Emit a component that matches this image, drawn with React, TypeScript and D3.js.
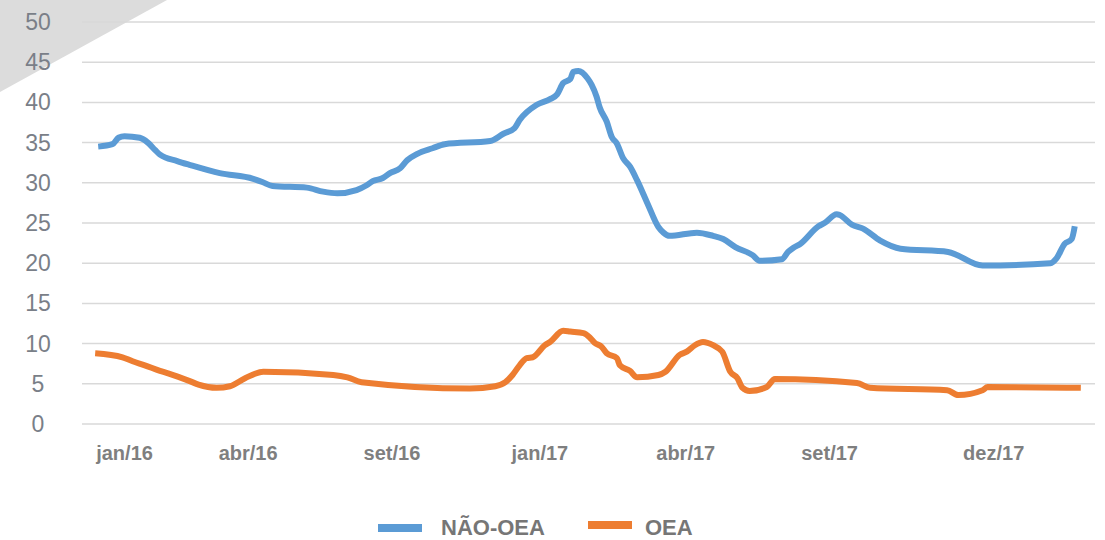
import React from 'react';
import * as d3 from 'd3';

// position along the category axis (0-100) and value
const naoOeaPos = [1.6, 3.0, 3.6, 4.2, 5.7, 6.5, 7.2, 7.7, 9.4, 10.7, 13.6, 16.9, 17.8, 18.8, 22.2, 23.8, 25.2, 27.1, 28.1, 28.7, 29.7, 30.4, 31.4, 32.1, 33.1, 34.6, 35.8, 40.3, 41.6, 42.7, 43.2, 44.9, 46.2, 46.9, 47.5, 48.2, 48.5, 49.0, 49.9, 50.3, 50.8, 51.1, 51.8, 52.3, 52.8, 53.4, 54.1, 54.8, 55.8, 56.9, 57.4, 58.0, 60.7, 62.3, 63.3, 64.5, 66.2, 66.9, 69.1, 69.7, 70.2, 70.9, 72.7, 73.3, 74.5, 74.8, 76.0, 77.1, 78.8, 80.8, 85.5, 88.9, 95.6, 96.2, 97.0, 97.7, 98.0];
const naoOeaVal = [34.5, 34.8, 35.6, 35.8, 35.6, 35.0, 34.1, 33.5, 32.7, 32.2, 31.2, 30.5, 30.1, 29.6, 29.4, 28.9, 28.7, 29.1, 29.7, 30.2, 30.6, 31.2, 31.8, 32.8, 33.6, 34.3, 34.8, 35.2, 36.1, 36.8, 37.8, 39.7, 40.4, 41.0, 42.4, 42.9, 43.8, 43.9, 43.0, 42.2, 40.7, 39.4, 37.6, 35.7, 34.9, 33.1, 32.0, 30.3, 27.5, 24.5, 23.8, 23.4, 23.8, 23.4, 23.0, 22.0, 21.0, 20.3, 20.5, 21.4, 21.9, 22.4, 24.6, 25.0, 26.1, 26.0, 24.8, 24.3, 22.8, 21.8, 21.4, 19.7, 20.0, 20.6, 22.4, 23.0, 24.6];

const oeaPos = [1.3, 4.0, 5.0, 6.2, 7.7, 8.5, 10.7, 11.5, 13.3, 14.6, 16.1, 17.9, 24.8, 26.2, 27.6, 38.3, 40.8, 41.8, 42.5, 43.2, 43.9, 44.5, 45.7, 46.2, 47.5, 48.2, 49.5, 50.1, 50.6, 51.3, 51.8, 52.8, 53.1, 54.1, 54.8, 56.9, 57.6, 59.0, 59.7, 60.5, 61.3, 62.3, 63.2, 64.0, 64.7, 65.2, 65.9, 67.6, 68.4, 76.5, 77.8, 85.4, 86.5, 88.9, 89.4, 98.6];
const oeaVal = [8.8, 8.3, 7.8, 7.3, 6.6, 6.3, 5.3, 4.9, 4.5, 4.7, 5.7, 6.5, 6.1, 5.8, 5.2, 4.4, 4.7, 5.2, 6.1, 7.3, 8.2, 8.3, 9.8, 10.2, 11.6, 11.5, 11.3, 10.8, 10.1, 9.6, 8.8, 8.2, 7.3, 6.6, 5.8, 6.1, 6.5, 8.6, 9.0, 9.8, 10.2, 9.8, 9.0, 6.5, 5.7, 4.5, 4.1, 4.6, 5.6, 5.1, 4.5, 4.2, 3.6, 4.2, 4.6, 4.5];

const xTickLabels = ['jan/16', 'abr/16', 'set/16', 'jan/17', 'abr/17', 'set/17', 'dez/17'];
const xTickPos = [4.2, 16.4, 30.6, 45.2, 59.6, 73.8, 90.0];
const yTicks = [0, 5, 10, 15, 20, 25, 30, 35, 40, 45, 50];

const seriesNames = ['NÃO-OEA', 'OEA'];
const seriesColors = ['#5b9bd5', '#ed7d31'];

const W = 1105;
const H = 540;

export default function App() {
  const x = d3.scaleLinear().domain([0, 100]).range([82, 1095]);
  const y = d3.scaleLinear().domain([0, 50]).range([424, 22]);

  const line = d3.line<[number, number]>()
    .x(d => x(d[0]))
    .y(d => y(d[1]))
    .curve(d3.curveMonotoneX);

  const series = [
    naoOeaPos.map((p, i) => [p, naoOeaVal[i]] as [number, number]),
    oeaPos.map((p, i) => [p, oeaVal[i]] as [number, number]),
  ];

  const font = '"Liberation Sans", Arial, sans-serif';

  return (
    <svg width={W} height={H} style={{ position: 'absolute', left: 0, top: 0, background: '#fff' }}>
      {/* grey corner */}
      <polygon points="0,0 167,0 0,92" fill="#dcdcdc" />

      {yTicks.map(t => (
        <g key={t}>
          <line x1={x(0)} x2={x(100)} y1={y(t)} y2={y(t)} stroke="#d9d9d9" strokeWidth={1.5} />
          <text x={38} y={y(t)} dy="0.35em" textAnchor="middle" fontFamily={font}
            fontSize={23} fill="#7a7f88">{t}</text>
        </g>
      ))}

      {xTickLabels.map((lab, i) => (
        <text key={lab} x={x(xTickPos[i])} y={460} textAnchor="middle" fontFamily={font}
          fontSize={20} fontWeight="bold" fill="#7f7f7f">{lab}</text>
      ))}

      {series.map((s, i) => (
        <path key={i} d={line(s) || ''} fill="none" stroke={seriesColors[i]}
          strokeWidth={6} strokeLinejoin="round" />
      ))}

      {/* legend */}
      <line x1={378} x2={422} y1={528} y2={528} stroke={seriesColors[0]} strokeWidth={8} />
      <text x={441} y={535} fontFamily={font} fontSize={22} fontWeight="bold"
        fill="#767676">{seriesNames[0]}</text>
      <line x1={588} x2={632} y1={525} y2={525} stroke={seriesColors[1]} strokeWidth={8} />
      <text x={645} y={535} fontFamily={font} fontSize={22} fontWeight="bold"
        fill="#767676">{seriesNames[1]}</text>
    </svg>
  );
}
